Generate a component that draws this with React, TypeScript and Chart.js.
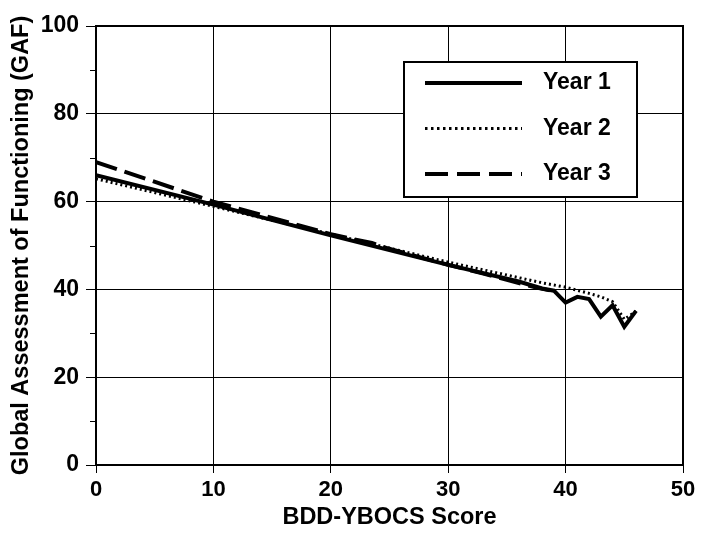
import React, { useEffect, useRef } from "react";
import { Chart, registerables } from "chart.js";
Chart.register(...registerables);

const seriesLabels = ["Year 1", "Year 2", "Year 3"];
const year1X = [0, 10, 20, 30, 36, 38, 39, 40, 41, 42, 43, 44, 45, 46];
const year1Y = [66, 59.3, 52.3, 45.6, 41.8, 40.2, 39.7, 37, 38.3, 37.8, 33.8, 36.4, 31.5, 35.1];
const year2X = [0, 10, 20, 30, 38, 40, 41, 42, 43, 44, 45, 46];
const year2Y = [65.2, 58.9, 52.6, 46.2, 41.5, 40.5, 39.8, 39.1, 38.3, 37.2, 33.2, 35];
const year3X = [0, 10, 20, 22, 23.5, 24.5, 30, 33, 35, 37.5, 39];
const year3Y = [69, 60, 52.6, 51.4, 50.6, 49.6, 45.6, 43.6, 42.2, 40.4, 39.6];
const xTicks = [0, 10, 20, 30, 40, 50];
const yMinorTicks = [10, 30, 50, 70, 90];

const FONT = "'Liberation Sans', Arial, Helvetica, sans-serif";

const toPts = (xs: number[], ys: number[]) => xs.map((x, i) => ({ x, y: ys[i] }));

const framePlugin = {
  id: "frame",
  afterDraw(chart: any) {
    const { ctx, chartArea: a, scales } = chart;
    ctx.save();
    ctx.strokeStyle = "#000";
    ctx.lineWidth = 2;
    ctx.strokeRect(a.left, a.top, a.right - a.left, a.bottom - a.top);
    // minor y ticks
    ctx.lineWidth = 1;
    for (const v of yMinorTicks) {
      const y = Math.round(scales.y.getPixelForValue(v)) + 0.5;
      ctx.beginPath();
      ctx.moveTo(a.left - 6, y);
      ctx.lineTo(a.left, y);
      ctx.stroke();
    }
    // legend
    const L = a.left + 308, T = a.top + 36, W = 233, H = 135;
    ctx.fillStyle = "#fff";
    ctx.fillRect(L, T, W, H);
    ctx.lineWidth = 2;
    ctx.strokeRect(L, T, W, H);
    chart.data.datasets.forEach((ds: any, i: number) => {
      const y = T + 21 + i * 45.5;
      ctx.save();
      ctx.strokeStyle = "#000";
      ctx.lineWidth = i === 1 ? 3 : 4;
      ctx.setLineDash(i === 1 ? [2.5, 3.5] : i === 2 ? [23, 9] : []);
      ctx.beginPath();
      ctx.moveTo(L + 21, y);
      ctx.lineTo(L + 118, y);
      ctx.stroke();
      ctx.restore();
      ctx.fillStyle = "#000";
      ctx.font = `bold 23px ${FONT}`;
      ctx.textBaseline = "middle";
      ctx.textAlign = "left";
      ctx.fillText(ds.label, L + 139, y);
    });
    ctx.restore();
  },
};

export default function App() {
  const ref = useRef<HTMLCanvasElement>(null);
  useEffect(() => {
    document.body.style.margin = "0";
    const chart = new Chart(ref.current!, {
      type: "scatter",
      data: {
        datasets: [
          {
            label: seriesLabels[0],
            data: toPts(year1X, year1Y),
            showLine: true,
            borderColor: "#000",
            borderWidth: 4,
            pointRadius: 0,
            tension: 0,
          },
          {
            label: seriesLabels[1],
            data: toPts(year2X, year2Y),
            showLine: true,
            borderColor: "#000",
            borderWidth: 3,
            borderDash: [2, 3],
            pointRadius: 0,
            tension: 0,
          },
          {
            label: seriesLabels[2],
            data: toPts(year3X, year3Y),
            showLine: true,
            borderColor: "#000",
            borderWidth: 4,
            borderDash: [22, 8],
            pointRadius: 0,
            tension: 0,
          },
        ],
      },
      options: {
        animation: false,
        responsive: false,
        devicePixelRatio: 1,
        layout: { padding: { top: 26, right: 21, left: 0, bottom: 0 } },
        plugins: { legend: { display: false }, tooltip: { enabled: false } },
        scales: {
          x: {
            type: "linear",
            min: 0,
            max: 50,
            afterBuildTicks: (s: any) => {
              s.ticks = xTicks.map((v) => ({ value: v }));
            },
            afterFit: (s: any) => {
              s.height = 72;
            },
            grid: { color: "#000", lineWidth: 1, tickLength: 8, tickColor: "#000" },
            border: { color: "#000", width: 2 },
            ticks: {
              color: "#000",
              padding: 4,
              maxRotation: 0,
              font: { family: FONT, size: 22, weight: "bold" },
            },
            title: {
              display: true,
              text: "BDD-YBOCS Score",
              color: "#000",
              font: { family: FONT, size: 23.5, weight: "bold" },
              padding: { top: 0, bottom: 5 },
            },
          },
          y: {
            type: "linear",
            min: 0,
            max: 100,
            ticks: {
              stepSize: 20,
              color: "#000",
              padding: 7,
              font: { family: FONT, size: 23, weight: "bold" },
            },
            afterFit: (s: any) => {
              s.width = 96;
            },
            grid: { color: "#000", lineWidth: 1, tickLength: 10, tickColor: "#000" },
            border: { color: "#000", width: 2 },
            title: {
              display: true,
              text: "Global Assessment of Functioning (GAF)",
              color: "#000",
              font: { family: FONT, size: 23.5, weight: "bold" },
              padding: { top: 7, bottom: 0 },
            },
          },
        },
      },
      plugins: [framePlugin],
    } as any);
    return () => chart.destroy();
  }, []);
  return <canvas ref={ref} width={704} height={537} style={{ display: "block" }} />;
}
